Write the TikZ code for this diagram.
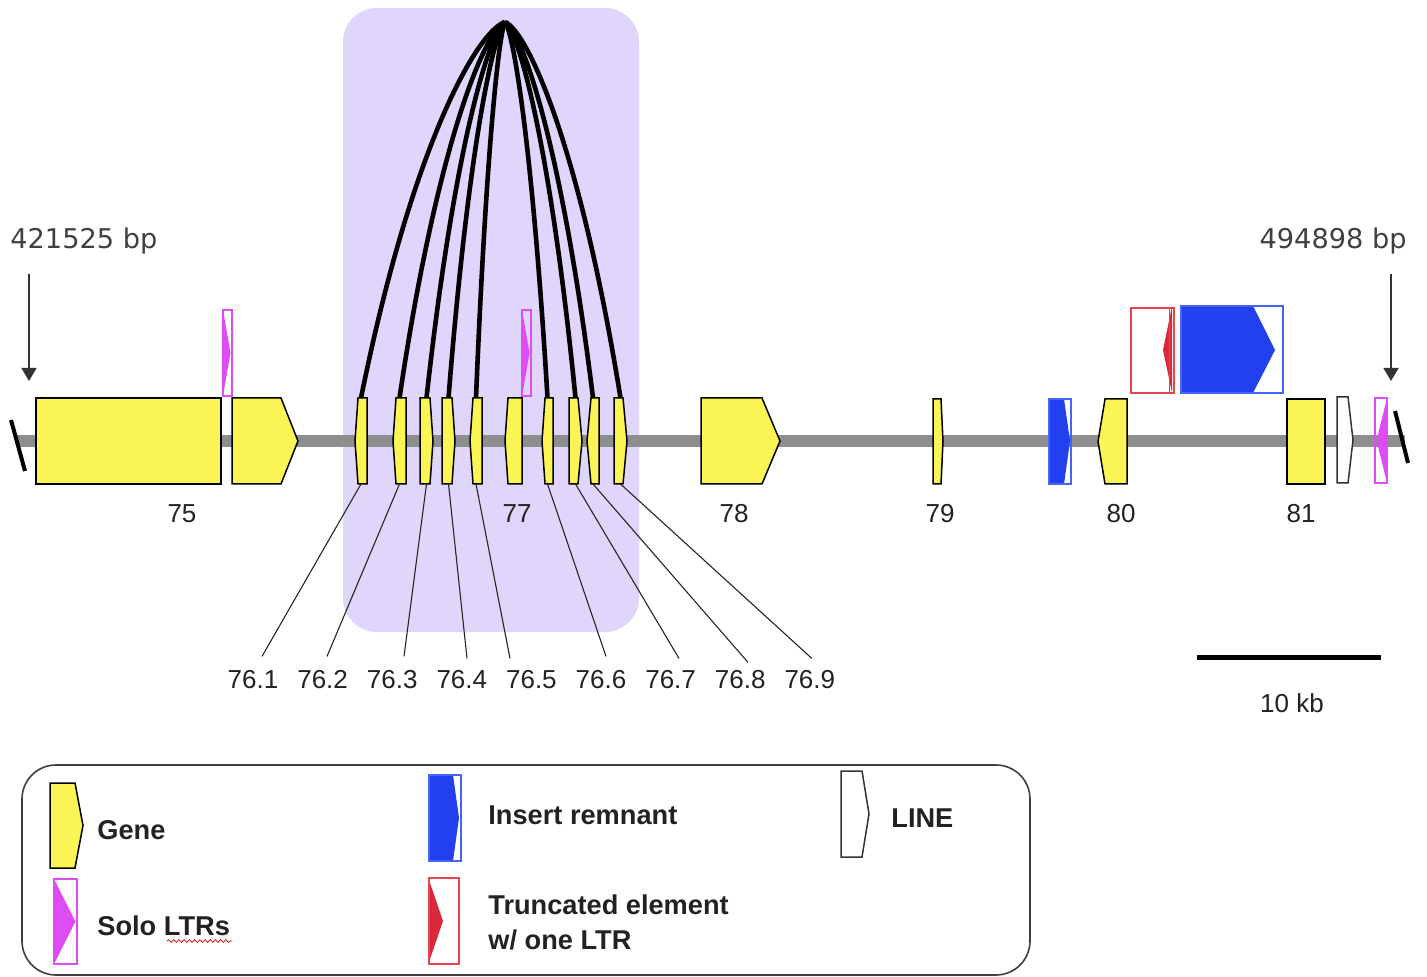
\documentclass[tikz,border=0pt]{standalone}
\usepackage{fontspec}
\setmainfont{Liberation Sans}
\newfontfamily\dejavu{DejaVu Sans}
\usetikzlibrary{fit,arrows.meta,decorations.pathmorphing}
\definecolor{geneY}{RGB}{250,245,85}
\definecolor{ltrM}{RGB}{221,76,245}
\definecolor{insB}{RGB}{35,64,238}
\definecolor{insO}{RGB}{70,100,245}
\definecolor{truR}{RGB}{217,40,58}
\definecolor{truO}{RGB}{228,70,80}
\definecolor{trackG}{RGB}{142,142,142}
\definecolor{boxP}{RGB}{224,213,250}
\definecolor{txt}{RGB}{34,34,34}
\tikzset{
  gene/.style={fill=geneY,draw=black,line width=0.75pt,line join=miter},
  linee/.style={fill=white,draw=black!80,line width=0.75pt},
  ltrbox/.style={draw=ltrM,line width=0.7pt},
  insbox/.style={draw=insO,line width=0.6pt},
  trubox/.style={draw=truO,line width=0.7pt},
  arcline/.style={line width=2.3pt,black},
  leader/.style={line width=0.55pt,black!85},
  lab/.style={font=\fontsize{13}{15}\selectfont,text=txt,inner sep=0pt},
  bplab/.style={font=\dejavu\fontsize{13.6}{16}\selectfont,text=black!75,inner sep=0pt},
  leg/.style={font=\bfseries\fontsize{13.6}{17.5}\selectfont,text=txt,inner sep=0pt,anchor=west,align=left},
  posarrow/.style={line width=0.7pt,black!80,-{Triangle[width=7.5pt,length=6.5pt]}},
  breakmark/.style={line width=2pt,black},
  hold/.style={inner sep=0pt,outer sep=0pt}
}
% right-pointing: name, style, x-left, x-shoulder, x-apex, y-top, y-bottom
\newcommand\geneR[7]{\node[hold,fit={(#3,#6) (#5,#7)}] (#1) {};
  \path[#2] (#3,#6) -- (#4,#6) -- (#5,{(#6+#7)/2}) -- (#4,#7) -- (#3,#7) -- cycle;}
% left-pointing: name, style, x-apex, x-shoulder, x-right, y-top, y-bottom
\newcommand\geneL[7]{\node[hold,fit={(#3,#6) (#5,#7)}] (#1) {};
  \path[#2] (#5,#6) -- (#4,#6) -- (#3,{(#6+#7)/2}) -- (#4,#7) -- (#5,#7) -- cycle;}
% solo LTR pointing right: name, x-left, x-right, y-top, y-bottom
\newcommand\ltrR[5]{\node[hold,fit={(#2,#4) (#3,#5)}] (#1) {};
  \fill[ltrM] (#2,#4) -- ({#3-1.5},{(#4+#5)/2}) -- (#2,#5) -- cycle;
  \draw[ltrbox] (#2,#4) rectangle (#3,#5);}
\newcommand\ltrL[5]{\node[hold,fit={(#2,#4) (#3,#5)}] (#1) {};
  \fill[ltrM] (#3,#4) -- ({#2+1.5},{(#4+#5)/2}) -- (#3,#5) -- cycle;
  \draw[ltrbox] (#2,#4) rectangle (#3,#5);}
\begin{document}
\begin{tikzpicture}[x=0.5pt,y=-0.5pt]
\useasboundingbox (0,0) rectangle (1427,977);
\fill[white] (0,0) rectangle (1427,977);

% highlighted cluster
\fill[boxP,rounded corners=17pt] (343,8) rectangle (639,632);

% track
\coordinate (t0) at (16,441);
\coordinate (t1) at (1405,441);
\draw[trackG,line width=6.2pt] (t0) -- (t1);

% break marks
\coordinate (bl0) at (11,420); \coordinate (bl1) at (25,471);
\draw[breakmark] (bl0) -- (bl1);
\coordinate (br0) at (1395,411); \coordinate (br1) at (1408,463);
\draw[breakmark] (br0) -- (br1);

% position labels and arrows
\node[bplab,anchor=west] (bpl) at (10,241) {421525 bp};
\node[bplab,anchor=east] (bpr) at (1407,241) {494898 bp};
\coordinate (la0) at (29,274); \coordinate (la1) at (29,381);
\draw[posarrow] (la0) -- (la1);
\coordinate (ra0) at (1391,274); \coordinate (ra1) at (1391,381);
\draw[posarrow] (ra0) -- (ra1);

% genes
\node[hold,fit={(36,398) (221,484)}] (g75a) {};
\path[gene] (36,398) rectangle (221,484);
\geneR{g75b}{gene}{232}{281}{298}{398}{484}
\ltrR{ltr1}{223}{232}{310}{396}

\geneL{s1}{gene}{355}{358}{367}{398}{484}
\geneL{s2}{gene}{393}{396}{406}{398}{484}
\geneR{s3}{gene}{420}{430}{433}{398}{484}
\geneR{s4}{gene}{442}{452}{455}{398}{484}
\geneL{s5}{gene}{470}{473}{482}{398}{484}
\geneL{g77}{gene}{505}{508}{522}{398}{484}
\geneL{s6}{gene}{542}{545}{553}{398}{484}
\geneR{s7}{gene}{569}{578}{582}{398}{484}
\geneL{s8}{gene}{587}{591}{599}{398}{484}
\geneR{s9}{gene}{614}{623}{627}{398}{484}
\ltrR{ltr2}{522}{531}{310}{396}

\geneR{g78}{gene}{701}{762}{780}{398}{484}
\geneR{g79}{gene}{933}{941}{943}{399}{484}
\node[hold,fit={(1049,399) (1071,484)}] (ins1) {};
\fill[insB] (1049,399) -- (1064,399) -- (1070,441) -- (1064,484) -- (1049,484) -- cycle;
\draw[insbox] (1049,399) rectangle (1071,484);
\geneL{g80}{gene}{1098}{1105}{1127}{399}{484}
\node[hold,fit={(1287,399) (1325,484)}] (g81) {};
\path[gene] (1287,399) rectangle (1325,484);
\geneR{line1}{linee}{1337}{1348}{1353}{397}{483}
\ltrL{ltr3}{1375}{1387}{398}{483}

% elements above the track
\node[hold,fit={(1131,308) (1174,393)}] (tru1) {};
\draw[trubox] (1131,308) rectangle (1174,393);
\fill[truR] (1172,306) -- (1163,350) -- (1172,393) -- cycle;
\draw[truO,line width=0.5pt] (1169,308) -- (1169,393);
\node[hold,fit={(1181,306) (1283,393)}] (ins2) {};
\fill[insB] (1181,306) -- (1253,306) -- (1275,350) -- (1253,393) -- (1181,393) -- cycle;
\draw[insbox] (1181,306) rectangle (1283,393);

% numbers
\node[lab] (n75) at (182,514) {75};
\node[lab] (n77) at (517,514) {77};
\node[lab] (n78) at (734,514) {78};
\node[lab] (n79) at (940,514) {79};
\node[lab] (n80) at (1121,514) {80};
\node[lab] (n81) at (1301,514) {81};

% sub-gene labels
\node[lab] (l1) at (253,680) {76.1};
\node[lab] (l2) at (322.6,680) {76.2};
\node[lab] (l3) at (392.2,680) {76.3};
\node[lab] (l4) at (461.8,680) {76.4};
\node[lab] (l5) at (531.4,680) {76.5};
\node[lab] (l6) at (601,680) {76.6};
\node[lab] (l7) at (670.6,680) {76.7};
\node[lab] (l8) at (740.2,680) {76.8};
\node[lab] (l9) at (809.8,680) {76.9};

% leader lines
\draw[leader] (s1.south) -- ([xshift=4.5pt,yshift=7pt]l1.north);
\draw[leader] (s2.south) -- ([xshift=2.2pt,yshift=7pt]l2.north);
\draw[leader] (s3.south) -- ([xshift=5.9pt,yshift=7pt]l3.north);
\draw[leader] (s4.south) -- ([xshift=2.6pt,yshift=6pt]l4.north);
\draw[leader] (s5.south) -- ([xshift=-10.7pt,yshift=6pt]l5.north);
\draw[leader] (s6.south) -- ([xshift=2.5pt,yshift=7pt]l6.north);
\draw[leader] (s7.south) -- ([xshift=4.2pt,yshift=6pt]l7.north);
\draw[leader] (s8.south) -- ([xshift=3.9pt,yshift=4pt]l8.north);
\draw[leader] (s9.south) -- ([xshift=1pt,yshift=6pt]l9.north);

% arcs
\coordinate (apex) at (505,22);
\draw[arcline] (s1.north) .. controls (411.4,148) and (476.2,32) .. (apex);
\draw[arcline] (s2.north) .. controls (436.4,148) and (483.9,32) .. (apex);
\draw[arcline] (s3.north) .. controls (454.0,148) and (489.3,32) .. (apex);
\draw[arcline] (s4.north) .. controls (468.3,148) and (493.7,32) .. (apex);
\draw[arcline] (s5.north) .. controls (486.2,148) and (499.2,32) .. (apex);
\draw[arcline] (s6.north) .. controls (532.6,148) and (513.5,32) .. (apex);
\draw[arcline] (s7.north) .. controls (550.8,148) and (519.1,32) .. (apex);
\draw[arcline] (s8.north) .. controls (562.2,148) and (522.6,32) .. (apex);
\draw[arcline] (s9.north) .. controls (580.1,148) and (528.1,32) .. (apex);

% scale bar
\coordinate (sb0) at (1197,657); \coordinate (sb1) at (1381,657);
\draw[line width=2.5pt,black] (sb0) -- (sb1);
\node[lab] (sbl) at (1292,703) {10 kb};

% legend
\draw[black!75,line width=0.8pt,rounded corners=17pt] (22,765) rectangle (1030,975);
\geneR{kgene}{gene}{50}{75}{83}{783}{868}
\node[leg] (kgenet) at (97,830) {Gene};
\ltrR{kltr}{54}{77}{879}{964}
\node[leg] (kltrt) at (97,926) {Solo LTRs};
\draw[red!85!black,line width=0.35pt,decorate,decoration={snake,amplitude=0.7pt,segment length=2.6pt}] (167,941) -- (232,941);
\node[hold,fit={(429,775) (461,861)}] (kins) {};
\fill[insB] (429,775) -- (453,775) -- (459,818) -- (453,861) -- (429,861) -- cycle;
\draw[insbox] (429,775) rectangle (461,861);
\node[leg] (kinst) at (488,815) {Insert remnant};
\node[hold,fit={(429,878) (459,964)}] (ktru) {};
\fill[truR] (429,880) -- (443,921) -- (429,962) -- cycle;
\draw[trubox] (429,878) rectangle (459,964);
\node[leg] (ktrut) at (488,922) {Truncated element\\w/ one LTR};
\geneR{kline}{linee}{841}{862}{869}{771}{857}
\node[leg] (klinet) at (891,818) {LINE};
\end{tikzpicture}
\end{document}
